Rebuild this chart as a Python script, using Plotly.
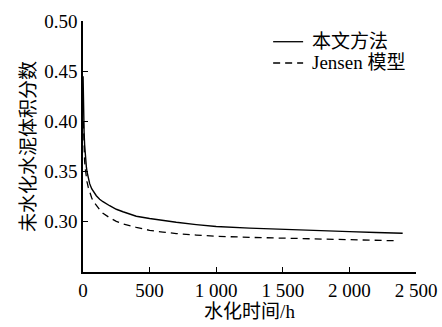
import plotly.graph_objects as go

# hydration time (h)
t_solid = [0.5, 2, 5, 8, 12, 16, 20, 25, 30, 40, 50, 65, 75, 90, 100, 125, 150, 200, 250, 300, 400, 500,
           600, 700, 850, 1000, 1250, 1500, 1750, 2000, 2200, 2400]
v_solid = [0.445, 0.425, 0.405, 0.390, 0.377, 0.368, 0.361, 0.355, 0.350, 0.343, 0.338, 0.333, 0.331,
           0.328, 0.326, 0.3225, 0.320, 0.316, 0.3125, 0.310, 0.3055, 0.3033, 0.3013, 0.2995, 0.2972,
           0.2953, 0.2937, 0.2923, 0.2912, 0.2902, 0.2894, 0.2886]
t_jensen = [3, 5, 8, 12, 16, 20, 25, 30, 40, 50, 65, 75, 90, 100, 125, 150, 200, 250, 300, 400, 500,
            600, 700, 850, 1000, 1250, 1500, 1750, 2000, 2200, 2360]
v_jensen = [0.400, 0.385, 0.372, 0.361, 0.354, 0.349, 0.344, 0.340, 0.334, 0.329, 0.324, 0.321, 0.318,
            0.316, 0.312, 0.3085, 0.304, 0.3005, 0.298, 0.2945, 0.2915, 0.2898, 0.2883, 0.2868, 0.2856,
            0.2845, 0.2837, 0.2829, 0.2822, 0.2816, 0.2811]

x_ticks = [0, 500, 1000, 1500, 2000, 2500]
x_ticktext = ["0", "500", "1 000", "1 500", "2 000", "2 500"]
y_ticks = [0.30, 0.35, 0.40, 0.45, 0.50]
y_ticktext = ["0.30", "0.35", "0.40", "0.45", "0.50"]

names = ["本文方法", "Jensen 模型"]

FONT = "'Liberation Serif', 'Noto Serif', 'Noto Sans CJK SC', serif"
DASH = "7px,5px"

fig = go.Figure()
fig.add_trace(go.Scatter(x=t_solid, y=v_solid, mode="lines", name=names[0],
                         line=dict(color="black", width=1.4)))
fig.add_trace(go.Scatter(x=t_jensen, y=v_jensen, mode="lines", name=names[1],
                         line=dict(color="black", width=1.3, dash=DASH)))

# legend drawn as line samples + text (to match tight row spacing)
leg_x0, leg_x1, leg_tx = 0.571, 0.661, 0.682
leg_rows = [0.9175, 0.8327]
styles = [None, DASH]
for yy, nm, ds in zip(leg_rows, names, styles):
    fig.add_shape(type="line", xref="paper", yref="paper", x0=leg_x0, x1=leg_x1, y0=yy, y1=yy,
                  line=dict(color="black", width=1.3, dash=ds if ds else "solid"))
    fig.add_annotation(xref="paper", yref="paper", x=leg_tx, y=yy, text=nm, showarrow=False,
                       xanchor="left", yanchor="middle", font=dict(size=19))

fig.update_layout(
    width=442, height=327,
    margin=dict(l=83, r=26, t=21, b=55),
    paper_bgcolor="white", plot_bgcolor="white",
    font=dict(family=FONT, size=19, color="black"),
    showlegend=False,
    xaxis=dict(range=[0, 2500], tickvals=x_ticks, ticktext=x_ticktext,
               ticks="inside", ticklen=5, tickwidth=1.3, tickcolor="black",
               showline=True, linecolor="black", linewidth=1.5, showgrid=False, zeroline=False,
               title=dict(text="水化时间/h", standoff=4, font=dict(size=19)), automargin=False),
    yaxis=dict(range=[0.25, 0.50], tickvals=y_ticks, ticktext=y_ticktext,
               ticks="inside", ticklen=5, tickwidth=1.3, tickcolor="black",
               showline=True, linecolor="black", linewidth=1.5, showgrid=False, zeroline=False,
               title=dict(text="未水化水泥体积分数", standoff=4, font=dict(size=19)), automargin=False),
)

fig.write_html("out.html")
